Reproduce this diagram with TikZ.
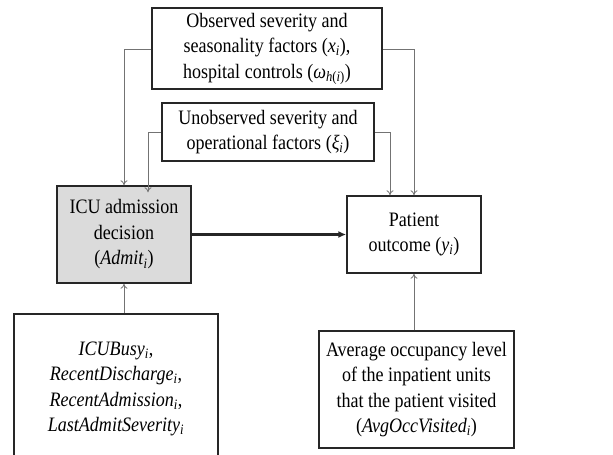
\documentclass[tikz,border=0pt]{standalone}
\usepackage{fontspec}
\setmainfont{Liberation Serif}[FakeStretch=0.88]
\usetikzlibrary{arrows.meta}
\newcommand{\vi}[1]{\textit{#1}\textsubscript{\textit{i}}}
\begin{document}
\begin{tikzpicture}[x=1pt,y=-1pt,
  box/.style={draw=black!85,line width=1.5pt,align=center,inner sep=0pt,
    font=\fontsize{20.5}{25.5}\selectfont},
  conn/.style={draw=black!55,line width=0.8pt,-{To[length=5pt,width=7pt]}},
  mainarrow/.style={draw=black!85,line width=2.4pt,-{Latex[length=8pt,width=7pt]}}]
\useasboundingbox (0,0) rectangle (613,455);
\node[box,minimum width=230pt,minimum height=81pt] (obs) at (267,48.5)
  {Observed severity and\\seasonality factors (\vi{x}),\\hospital controls (\textit{ω}\textsubscript{\textit{h}(\textit{i})})};
\node[box,minimum width=212pt,minimum height=58pt] (unobs) at (268,132)
  {Unobserved severity and\\operational factors (\vi{ξ})};
\node[box,fill=black!14,minimum width=134pt,minimum height=97pt] (admit) at (124,234.5)
  {ICU admission\\decision\\(\vi{Admit})};
\node[box,minimum width=134pt,minimum height=77pt] (out) at (414,234.5)
  {Patient\\outcome (\vi{y})};
\node[box,minimum width=204pt,minimum height=150pt] (iv) at (116,389)
  {\vi{ICUBusy},\\\vi{RecentDischarge},\\\vi{RecentAdmission},\\\vi{LastAdmitSeverity}};
\node[box,minimum width=195pt,minimum height=117pt] (occ) at (416.5,389.5)
  {Average occupancy level\\of the inpatient units\\that the patient visited\\(\vi{AvgOccVisited})};
\coordinate (a1) at (124,49);
\coordinate (a2) at (414,49);
\coordinate (b1) at (148,132);
\coordinate (b2) at (390,132);
\draw[conn] (obs.west |- a1) -- (a1) -- (a1 |- admit.north);
\draw[conn] (obs.east |- a2) -- (a2) -- (a2 |- out.north);
\draw[conn,shorten >=-7pt] (unobs.west |- b1) -- (b1) -- (b1 |- admit.north);
\draw[conn] (unobs.east |- b2) -- (b2) -- (b2 |- out.north);
\draw[conn] (iv.north -| admit.south) -- (admit.south);
\draw[conn] (occ.north -| a2) -- (a2 |- out.south);
\draw[mainarrow] (admit.east) -- (out.west);
\end{tikzpicture}
\end{document}
